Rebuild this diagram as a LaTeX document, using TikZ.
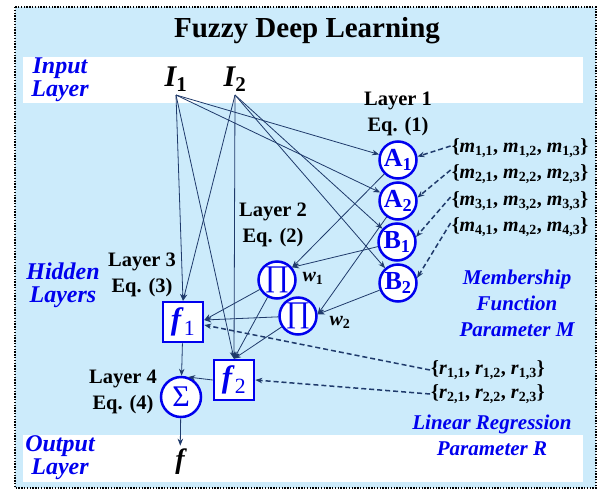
\documentclass[tikz,border=0pt]{standalone}
\usepackage{fontspec}
\setmainfont{Liberation Serif}
\usepackage{tikz}
\usetikzlibrary{calc,positioning,arrows.meta}
\definecolor{FDLbg}{HTML}{CCEBFB}
\definecolor{FDLnavy}{HTML}{1F3A6B}
\definecolor{FDLblue}{HTML}{0000EE}
\newcommand{\parset}[2]{\{\textit{#1}\textsubscript{#2,1}, \textit{#1}\textsubscript{#2,2}, \textit{#1}\textsubscript{#2,3}\}}

\begin{document}
\begin{tikzpicture}[x=1pt,y=-1pt,
            mf/.style={circle, draw=FDLblue, line width=2.5pt, fill=white, inner sep=0pt,
                       minimum size=37pt, text=FDLblue, font=\fontsize{26}{26}\selectfont\bfseries},
            op/.style={mf, font=\fontsize{30}{30}\selectfont},
            fbox/.style={rectangle, draw=FDLblue, line width=2.5pt, fill=white, inner sep=0pt,
                       minimum size=40pt, text=FDLblue, font=\fontsize{31}{31}\selectfont},
            lay/.style={font=\fontsize{20.5}{26}\selectfont\bfseries, align=center},
            side/.style={font=\fontsize{24}{23}\selectfont\bfseries\itshape, text=FDLblue, align=center},
            prm/.style={font=\fontsize{21}{26}\selectfont\bfseries\itshape, text=FDLblue, align=center},
            pset/.style={font=\fontsize{20}{20}\selectfont\bfseries, inner sep=1pt},
            inp/.style={font=\fontsize{30}{30}\selectfont\bfseries, anchor=south, inner sep=3pt},
            con/.style={draw=FDLnavy, line width=0.8pt, -{Stealth[length=7pt,width=5.5pt]}},
            dcon/.style={con, line width=1.5pt, dash pattern=on 5pt off 3pt}]
        \useasboundingbox (0,0) rectangle (599,490);
        % panel and layer bands
        \fill[FDLbg] (15,7) rectangle (596,488);
        \fill[white] (23,57) rectangle (583,103);
        \fill[white] (23,435) rectangle (583,482);
        \draw[line width=2pt, dash pattern=on 1.4pt off 1.4pt] (15,7) rectangle (596,488);
        \node[font=\fontsize{29}{29}\selectfont\bfseries] (title) at (307,31) {Fuzzy Deep Learning};
        \node[side] (inl) at (60,80) {Input\\Layer};
        \node[side] (hidl) at (63,285) {Hidden\\Layers};
        \node[side] (outl) at (60,458) {Output\\Layer};
        % inputs
        \node[inp] (I1) at (176,95) {{\itshape I}\textsubscript{1}};
        \node[inp] (I2) at (235,95) {{\itshape I}\textsubscript{2}};
        % layer 1
        \node[mf] (A1) at (398,160) {A\textsubscript{1}};
        \node[mf] (A2) at (398,201) {A\textsubscript{2}};
        \node[mf] (B1) at (397,242) {B\textsubscript{1}};
        \node[mf] (B2) at (398,283) {B\textsubscript{2}};
        % layers 2-4
        \node[op] (P1) at (277,280) {∏};
        \node[op] (P2) at (298,316) {∏};
        \node[fbox] (f1) at (183,322) {\textbf{\textit{f}}\textsubscript{1}};
        \node[fbox] (f2) at (234,380) {\textbf{\textit{f}}\textsubscript{2}};
        \node[op, minimum size=40pt] (S) at (181,397) {Σ};
        \node[font=\fontsize{28}{28}\selectfont\bfseries\itshape] (f) at (180,462) {f};
        % labels
        \node[lay] (L1) at (398,114) {Layer 1\\Eq. (1)};
        \node[lay] (L2) at (273,225) {Layer 2\\Eq. (2)};
        \node[lay] (L3) at (142,275) {Layer 3\\Eq. (3)};
        \node[lay] (L4) at (123,392) {Layer 4\\Eq. (4)};
        \node[pset] (w1) at (313,278) {\textit{w}\textsubscript{1}};
        \node[pset] (w2) at (340,322) {\textit{w}\textsubscript{2}};
        % parameters
        \node[pset] (m1) at (520,148) {\parset{m}{1}};
        \node[pset] (m2) at (520,174) {\parset{m}{2}};
        \node[pset] (m3) at (520,201) {\parset{m}{3}};
        \node[pset] (m4) at (520,227) {\parset{m}{4}};
        \node[pset] (r1) at (488,370) {\parset{r}{1}};
        \node[pset] (r2) at (488,394) {\parset{r}{2}};
        \node[prm] (pm) at (517,303) {Membership\\Function\\Parameter M};
        \node[prm] (pr) at (492,435) {Linear Regression\\Parameter R};
        % connections
        \draw[con] (I1.south) -- (A1);
        \draw[con] (I1.south) -- (A2);
        \draw[con] (I2.south) -- (B1);
        \draw[con] (I2.south) -- (B2);
        \draw[con] (I1.south) -- (f1.north);
        \draw[con] (I1.south) -- (f2.north);
        \draw[con] (I2.south) -- (f1.north);
        \draw[con] (I2.south) -- (f2.north);
        \draw[con] (A1) -- (P1.40);
        \draw[con] (B1) -- (P1.40);
        \draw[con] (A2) -- (P2.5);
        \draw[con] (B2) -- (P2.5);
        \draw[con] (P1) -- ([yshift=2pt]f1.east);
        \draw[con] (P2) -- ([yshift=2pt]f1.east);
        \draw[con] (P1) -- (f2.north);
        \draw[con] (P2) -- (f2.north);
        \draw[con] (f1) -- (S);
        \draw[con] (f2.west) -- (S.70);
        \draw[con] (S) -- (f);
        \draw[dcon] ([yshift=2pt]m1.west) -- (A1.10);
        \draw[dcon] ([yshift=4pt]m2.west) -- (A2.10);
        \draw[dcon] ([yshift=4pt]m3.west) -- (B1.15);
        \draw[dcon] ([yshift=4pt]m4.west) -- (B2.15);
        \draw[dcon] (r1.west) -- ([yshift=-3pt]f1.east);
        \draw[dcon] (r2.west) -- (f2.east);
      \end{tikzpicture}
\end{document}
